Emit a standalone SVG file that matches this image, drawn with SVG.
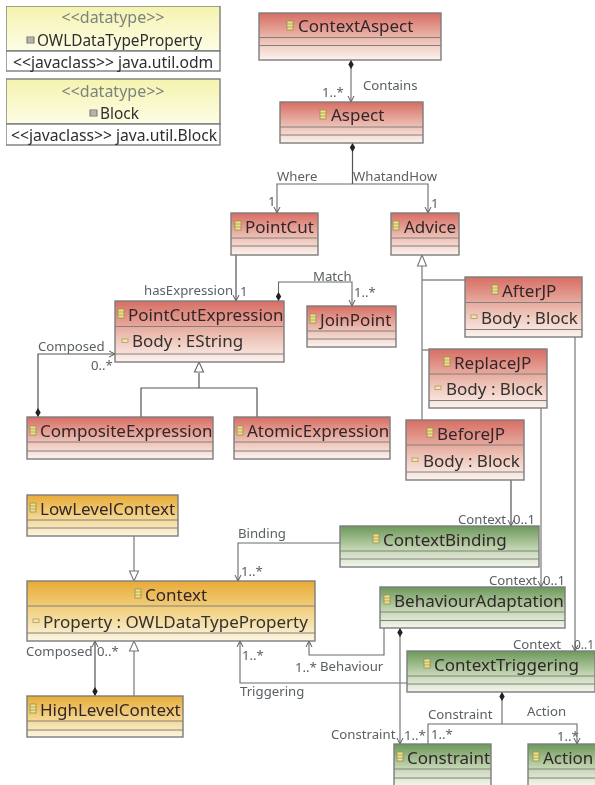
<svg xmlns="http://www.w3.org/2000/svg" width="595" height="785" viewBox="0 0 595 785">
<style>
text{font-family:"Noto Sans","Open Sans","Liberation Sans",sans-serif;fill:#2b2b2b}
.t{font-size:17px;fill:#33262a}
.a{font-size:17px;fill:#33302e}
.n{font-size:15.4px;fill:#2f2f2f}
.j{font-size:15.700px;fill:#2f2f2f}
.s{font-size:16px;fill:#7c8480}
.l{font-size:13.2px;fill:#5a6164}
.e{font-size:12px;fill:#5a6164}
.m{text-anchor:middle}
.b{stroke:#7d7d7d;stroke-width:1.4}
.d{stroke:#857f7b;stroke-width:1;fill:none}
.c{fill:none;stroke:#6a6a6a;stroke-width:1.1}
.g{fill:none;stroke:#8c8c8c;stroke-width:1.4}
.dk{fill:none;stroke:#555;stroke-width:1.2}
</style>
<defs>
<filter id="soft" x="0" y="0" width="100%" height="100%"><feGaussianBlur stdDeviation="0.4"/></filter>
<linearGradient id="red" x1="0" y1="0" x2="0" y2="1"><stop offset="0" stop-color="#d76e64"/><stop offset=".58" stop-color="#edc0b4"/><stop offset="1" stop-color="#fcf3ef"/></linearGradient>
<linearGradient id="org" x1="0" y1="0" x2="0" y2="1"><stop offset="0" stop-color="#e8ab38"/><stop offset=".55" stop-color="#f3d68e"/><stop offset="1" stop-color="#fbf5e2"/></linearGradient>
<linearGradient id="grn" x1="0" y1="0" x2="0" y2="1"><stop offset="0" stop-color="#6c985a"/><stop offset=".55" stop-color="#c0d4b0"/><stop offset="1" stop-color="#f3f6ec"/></linearGradient>
<linearGradient id="yel" x1="0" y1="0" x2="0" y2="1"><stop offset="0" stop-color="#f5f3ae"/><stop offset="1" stop-color="#fdfde6"/></linearGradient>
<g id="ci"><rect x="0" y="0" width="6" height="9" fill="#eee28c" stroke="#9a8f4a" stroke-width=".8"/><path d="M0 3H6M0 6H6" stroke="#9a8f4a" stroke-width=".7"/></g>
<g id="ai"><rect x="0" y="0" width="6" height="3.400" fill="#f3e6a8" stroke="#b09a60" stroke-width=".8"/></g>
<g id="di"><rect x="0" y="0" width="7" height="6" fill="#d8d8c8" stroke="#666" stroke-width=".9"/><path d="M0 2H7M0 4H7" stroke="#666" stroke-width=".6"/></g>
<marker id="arr" markerWidth="9" markerHeight="9" refX="7" refY="4" orient="auto" markerUnits="userSpaceOnUse"><path d="M1 1L7 4L1 7" fill="none" stroke="#555" stroke-width="1"/></marker>
<marker id="dia" markerWidth="11" markerHeight="8" refX="0" refY="3" orient="auto" markerUnits="userSpaceOnUse"><path d="M0 3L4.500 0.300L9 3L4.500 5.700Z" fill="#222"/></marker>
</defs>

<g filter="url(#soft)">
<g id="connectors">
<path class="c" d="M351 60V102" marker-start="url(#dia)" marker-end="url(#arr)"/>
<path class="dk" d="M352.500 143V184" marker-start="url(#dia)"/>
<path class="c" d="M352.500 184H277V213" marker-end="url(#arr)"/>
<path class="c" d="M352.500 184H428V213" marker-end="url(#arr)"/>
<path class="dk" d="M236 255V301" marker-end="url(#arr)"/>
<path class="c" d="M278.500 301V282H352V306" marker-start="url(#dia)" marker-end="url(#arr)"/>
<path class="dk" d="M38 417V354H115" marker-start="url(#dia)" marker-end="url(#arr)"/>
<path class="dk" d="M199 373V388M141 417V388H257V417"/>
<path d="M199 362L203.500 372H194.500Z" fill="#fff" stroke="#666" stroke-width="1.100"/>
<path class="g" d="M422 266V420M422 280H465M422 350H429"/>
<path d="M422 255L426.500 266H417.500Z" fill="#fff" stroke="#777" stroke-width="1.100"/>
<path class="dk" d="M511 480V526" marker-end="url(#arr)"/>
<path class="g" d="M541 408V587" marker-end="url(#arr)"/>
<path class="g" d="M575 337V651" marker-end="url(#arr)"/>
<path class="c" d="M340 543H238V581" marker-end="url(#arr)"/>
<path class="c" d="M384 628V655H309V641" marker-end="url(#arr)"/>
<path class="c" d="M407 683H240V641" marker-end="url(#arr)"/>
<path class="g" d="M134 536V571"/>
<path d="M134 581L129.500 571H138.500Z" fill="#fff" stroke="#777" stroke-width="1.100"/>
<path class="dk" d="M95 696V641" marker-start="url(#dia)" marker-end="url(#arr)"/>
<path class="g" d="M134 696V651"/>
<path d="M134 641L138.500 651H129.500Z" fill="#fff" stroke="#777" stroke-width="1.100"/>
<path class="g" d="M400 628V744" marker-start="url(#dia)" marker-end="url(#arr)"/>
<path class="c" d="M502 692V724" marker-start="url(#dia)"/>
<path class="c" d="M428 744V724H577V744" marker-start="url(#arr)" marker-end="url(#arr)"/>
</g>

<g id="labels">
<text class="l" x="363" y="90">Contains</text>
<text class="l" x="322" y="97">1..*</text>
<text class="l" x="277" y="181">Where</text>
<text class="l" x="353" y="181">WhatandHow</text>
<text class="l" x="268" y="206">1</text>
<text class="l" x="431" y="208">1</text>
<text class="l" x="144" y="295">hasExpression</text>
<text class="l" x="240" y="296">1</text>
<text class="l" x="313" y="281">Match</text>
<text class="l" x="354" y="297">1..*</text>
<text class="l" x="38" y="351">Composed</text>
<text class="l" x="91" y="370">0..*</text>
<text class="l" x="458" y="524">Context</text>
<text class="l" x="513" y="524">0..1</text>
<text class="l" x="238" y="538">Binding</text>
<text class="l" x="241" y="576">1..*</text>
<text class="l" x="489" y="585">Context</text>
<text class="l" x="543" y="585">0..1</text>
<text class="l" x="26" y="656">Composed</text>
<text class="l" x="97" y="656">0..*</text>
<text class="l" x="242" y="660">1..*</text>
<text class="l" x="295" y="672">1..*</text>
<text class="l" x="320" y="671">Behaviour</text>
<text class="l" x="240" y="696">Triggering</text>
<text class="l" x="513" y="649">Context</text>
<text class="e" x="574" y="649">0..1</text>
<text class="l" x="428" y="719">Constraint</text>
<text class="l" x="527" y="716">Action</text>
<text class="l" x="331" y="739">Constraint</text>
<text class="l" x="404" y="740">1..*</text>
<text class="l" x="431" y="739">1..*</text>
<text class="l" x="557" y="741">1..*</text>
</g>

<g id="OWLDataTypeProperty">
<rect x="6" y="6" width="214" height="45" fill="url(#yel)" class="b"/><rect x="6" y="51" width="214" height="20" fill="#fff" class="b"/>
<text class="s m" x="113" y="23">&lt;&lt;datatype&gt;&gt;</text>
<use href="#di" x="27" y="37"/><text class="n" x="37" y="46">OWLDataTypeProperty</text>
<text class="j" x="13" y="68">&lt;&lt;javaclass&gt;&gt; java.util.odm</text>
</g>
<g id="Block">
<rect x="6" y="79" width="214" height="45" fill="url(#yel)" class="b"/><rect x="6" y="124" width="214" height="21" fill="#fff" class="b"/>
<text class="s m" x="113" y="97">&lt;&lt;datatype&gt;&gt;</text>
<use href="#di" x="90" y="110"/><text class="n" x="100" y="119">Block</text>
<text class="j" x="11" y="141">&lt;&lt;javaclass&gt;&gt; java.util.Block</text>
</g>

<g id="ContextAspect">
<rect class="b" x="259" y="13" width="182" height="47" fill="url(#red)"/><path class="d" d="M259 37.500H441M259 45.500H441"/>
<use href="#ci" x="287" y="21"/><text class="t" x="298" y="32">ContextAspect</text>
</g>
<g id="Aspect">
<rect class="b" x="280" y="102" width="143" height="41" fill="url(#red)"/><path class="d" d="M280 127H423M280 135H423"/>
<use href="#ci" x="320" y="110"/><text class="t" x="331" y="121">Aspect</text>
</g>
<g id="PointCut">
<rect class="b" x="231" y="213" width="87" height="42" fill="url(#red)"/><path class="d" d="M231 238H318M231 246H318"/>
<use href="#ci" x="235" y="221"/><text class="t" x="245" y="233">PointCut</text>
</g>
<g id="Advice">
<rect class="b" x="391" y="213" width="68" height="42" fill="url(#red)"/><path class="d" d="M391 238H459M391 246H459"/>
<use href="#ci" x="393" y="221"/><text class="t" x="404" y="233">Advice</text>
</g>
<g id="PointCutExpression">
<rect class="b" x="115" y="301" width="169" height="61" fill="url(#red)"/><path class="d" d="M115 326.500H284M115 354H284"/>
<use href="#ci" x="118" y="309"/><text class="t" x="128" y="321">PointCutExpression</text>
<use href="#ai" x="122" y="339"/><text class="a" x="132" y="347">Body : EString</text>
</g>
<g id="JoinPoint">
<rect class="b" x="307" y="306" width="89" height="41" fill="url(#red)"/><path class="d" d="M307 331H396M307 339H396"/>
<use href="#ci" x="310" y="314"/><text class="t" x="320" y="326">JoinPoint</text>
</g>
<g id="AfterJP">
<rect class="b" x="465" y="277" width="117" height="60" fill="url(#red)"/><path class="d" d="M465 302.500H582M465 329.500H582"/>
<use href="#ci" x="492" y="285"/><text class="t" x="502" y="297">AfterJP</text>
<use href="#ai" x="471" y="315"/><text class="a" x="481" y="324">Body : Block</text>
</g>
<g id="ReplaceJP">
<rect class="b" x="429" y="349" width="118" height="59" fill="url(#red)"/><path class="d" d="M429 374H547M429 400.500H547"/>
<use href="#ci" x="444" y="357"/><text class="t" x="454" y="369">ReplaceJP</text>
<use href="#ai" x="435" y="386"/><text class="a" x="446" y="395">Body : Block</text>
</g>
<g id="BeforeJP">
<rect class="b" x="406" y="420" width="118" height="60" fill="url(#red)"/><path class="d" d="M406 445H524M406 472H524"/>
<use href="#ci" x="427" y="428"/><text class="t" x="437" y="440">BeforeJP</text>
<use href="#ai" x="412" y="458"/><text class="a" x="423" y="467">Body : Block</text>
</g>
<g id="CompositeExpression">
<rect class="b" x="27" y="417" width="186" height="42" fill="url(#red)"/><path class="d" d="M27 442H213M27 451H213"/>
<use href="#ci" x="30" y="426"/><text class="t" x="40" y="437">CompositeExpression</text>
</g>
<g id="AtomicExpression">
<rect class="b" x="234" y="417" width="156" height="42" fill="url(#red)"/><path class="d" d="M234 442H390M234 451H390"/>
<use href="#ci" x="237" y="426"/><text class="t" x="247" y="437">AtomicExpression</text>
</g>
<g id="LowLevelContext">
<rect class="b" x="27" y="495" width="151" height="41" fill="url(#org)"/><path class="d" d="M27 520H178M27 528H178"/>
<use href="#ci" x="30" y="503"/><text class="t" x="40" y="515">LowLevelContext</text>
</g>
<g id="Context">
<rect class="b" x="27" y="581" width="288" height="60" fill="url(#org)"/><path class="d" d="M27 606H315M27 633H315"/>
<use href="#ci" x="135" y="589"/><text class="t" x="145" y="601">Context</text>
<use href="#ai" x="33" y="619"/><text class="a" x="43" y="628">Property : OWLDataTypeProperty</text>
</g>
<g id="HighLevelContext">
<rect class="b" x="27" y="696" width="156" height="41" fill="url(#org)"/><path class="d" d="M27 721H183M27 730H183"/>
<use href="#ci" x="30" y="704"/><text class="t" x="40" y="716">HighLevelContext</text>
</g>
<g id="ContextBinding">
<rect class="b" x="340" y="526" width="199" height="41" fill="url(#grn)"/><path class="d" d="M340 551H539M340 559H539"/>
<use href="#ci" x="373" y="534"/><text class="t" x="383" y="546">ContextBinding</text>
</g>
<g id="BehaviourAdaptation">
<rect class="b" x="380" y="587" width="185" height="41" fill="url(#grn)"/><path class="d" d="M380 612H565M380 620.500H565"/>
<use href="#ci" x="384" y="595"/><text class="t" x="394" y="607">BehaviourAdaptation</text>
</g>
<g id="ContextTriggering">
<rect class="b" x="407" y="651" width="188" height="41" fill="url(#grn)"/><path class="d" d="M407 676H595M407 684H595"/>
<use href="#ci" x="424" y="659"/><text class="t" x="434" y="671">ContextTriggering</text>
</g>
<g id="Constraint">
<rect class="b" x="394" y="744" width="97" height="42" fill="url(#grn)"/><path class="d" d="M394 769H491M394 778H491"/>
<use href="#ci" x="397" y="752"/><text class="t" x="407" y="764">Constraint</text>
</g>
<g id="Action">
<rect class="b" x="528" y="744" width="68" height="42" fill="url(#grn)"/><path class="d" d="M528 769H596M528 778H596"/>
<use href="#ci" x="533" y="752"/><text class="t" x="543" y="764">Action</text>
</g>
</g>
</svg>
